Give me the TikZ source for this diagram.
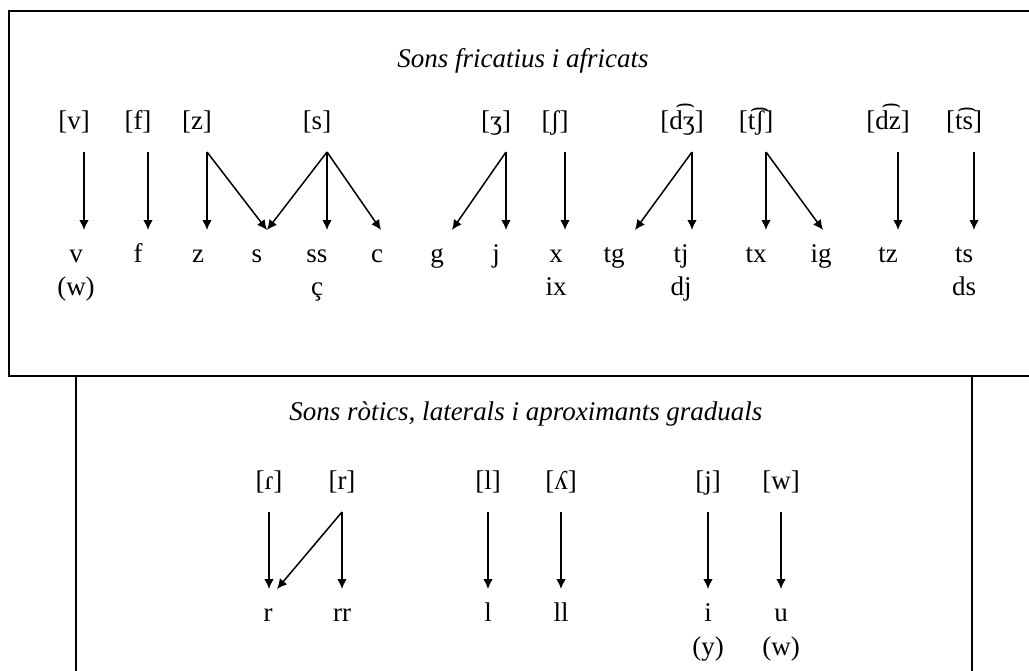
\documentclass[tikz,border=0pt]{standalone}
\usepackage{fontspec}
\setmainfont{Liberation Serif}
\usetikzlibrary{arrows.meta}

\newcommand\txtsize{\fontsize{13.5}{16}\selectfont}
\tikzset{
  ipa/.style={font=\txtsize, text height=9pt, text depth=3pt, inner sep=0pt, outer xsep=0pt, outer ysep=8.5pt},
  wd/.style={font=\txtsize, text height=8pt, text depth=3pt, inner sep=0pt, outer xsep=0pt, outer ysep=8pt},
  ttl/.style={font=\txtsize\itshape, anchor=base, inner sep=0pt},
  box/.style={line width=1pt},
  arr/.style={-{Latex[length=5pt,width=4.8pt]}, line width=0.75pt}
}

\begin{document}
\begin{tikzpicture}[x=0.5pt, y=-0.5pt]
  \useasboundingbox (0,0) rectangle (1029,670);
  % frames
  \draw[box] (9,11) rectangle (1045,376);
  \draw[box] (76,376) rectangle (972,700);

  % fricatives and affricates
  \node[ttl] (title1) at (523,67) {Sons fricatius i africats};
  \node[ipa] (pv) at (74,123) {[v]};
  \node[ipa] (pf) at (138,123) {[f]};
  \node[ipa] (pz) at (197,123) {[z]};
  \node[ipa] (ps) at (317,123) {[s]};
  \node[ipa] (pzh) at (496,123) {[ʒ]};
  \node[ipa] (psh) at (555,123) {[ʃ]};
  \node[ipa] (pdzh) at (682,123) {[d͡ʒ]};
  \node[ipa] (ptsh) at (756,123) {[t͡ʃ]};
  \node[ipa] (pdz) at (888,123) {[d͡z]};
  \node[ipa] (pts) at (964,123) {[t͡s]};

  \node[wd] (wv) at (76,257) {v};
  \node[wd] (wf) at (138,257) {f};
  \node[wd] (wz) at (198,257) {z};
  \node[wd] (ws) at (257,257) {s};
  \node[wd] (wss) at (317,257) {ss};
  \node[wd] (wc) at (377,257) {c};
  \node[wd] (wg) at (437,257) {g};
  \node[wd] (wj) at (496,257) {j};
  \node[wd] (wx) at (556,257) {x};
  \node[wd] (wtg) at (614,257) {tg};
  \node[wd] (wtj) at (681,257) {tj};
  \node[wd] (wtx) at (756,257) {tx};
  \node[wd] (wig) at (821,257) {ig};
  \node[wd] (wtz) at (888,257) {tz};
  \node[wd] (wts) at (964,257) {ts};

  \node[wd] (ww) at (76,290) {(w)};
  \node[wd] (wcc) at (317,290) {ç};
  \node[wd] (wix) at (556,290) {ix};
  \node[wd] (wdj) at (681,290) {dj};
  \node[wd] (wds) at (964,290) {ds};

  \begin{scope}[transform canvas={xshift=5pt}]
    \draw[arr] (pv.south) -- (pv.south |- wv.north);
    \draw[arr] (pf.south) -- (pf.south |- wf.north);
    \draw[arr] (pz.south) -- (pz.south |- wz.north);
    \draw[arr] (pz.south) -- (ws.north);
    \draw[arr] (ps.south) -- (ws.north);
    \draw[arr] (ps.south) -- (ps.south |- wss.north);
    \draw[arr] (ps.south) -- ([xshift=-3pt]wc.north);
    \draw[arr] (pzh.south) -- ([xshift=2.5pt]wg.north);
    \draw[arr] (pzh.south) -- (pzh.south |- wj.north);
    \draw[arr] (psh.south) -- (psh.south |- wx.north);
    \draw[arr] (pdzh.south) -- ([xshift=5.5pt]wtg.north);
    \draw[arr] (pdzh.south) -- (pdzh.south |- wtj.north);
    \draw[arr] (ptsh.south) -- (ptsh.south |- wtx.north);
    \draw[arr] (ptsh.south) -- ([xshift=-4pt]wig.north);
    \draw[arr] (pdz.south) -- (pdz.south |- wtz.north);
    \draw[arr] (pts.south) -- (pts.south |- wts.north);
  \end{scope}

  % rhotics, laterals and approximants
  \node[ttl] (title2) at (526,420) {Sons ròtics, laterals i aproximants graduals};
  \node[ipa] (ptap) at (269,483) {[ɾ]};
  \node[ipa] (ptrill) at (342,483) {[r]};
  \node[ipa] (pl) at (488,483) {[l]};
  \node[ipa] (pll) at (561,483) {[ʎ]};
  \node[ipa] (pj) at (708,483) {[j]};
  \node[ipa] (pw) at (781,483) {[w]};

  \node[wd] (wr) at (268,616) {r};
  \node[wd] (wrr) at (342,616) {rr};
  \node[wd] (wl) at (488,616) {l};
  \node[wd] (wll) at (561,616) {ll};
  \node[wd] (wi) at (708,616) {i};
  \node[wd] (wu) at (781,616) {u};
  \node[wd] (wy) at (708,650) {(y)};
  \node[wd] (ww2) at (781,650) {(w)};

  \draw[arr] (ptap.south) -- (ptap.south |- wr.north);
  \draw[arr] (ptrill.south) -- (ptrill.south |- wrr.north);
  \draw[arr] (ptrill.south) -- ([xshift=4.5pt]wr.north);
  \draw[arr] (pl.south) -- (pl.south |- wl.north);
  \draw[arr] (pll.south) -- (pll.south |- wll.north);
  \draw[arr] (pj.south) -- (pj.south |- wi.north);
  \draw[arr] (pw.south) -- (pw.south |- wu.north);
\end{tikzpicture}
\end{document}
